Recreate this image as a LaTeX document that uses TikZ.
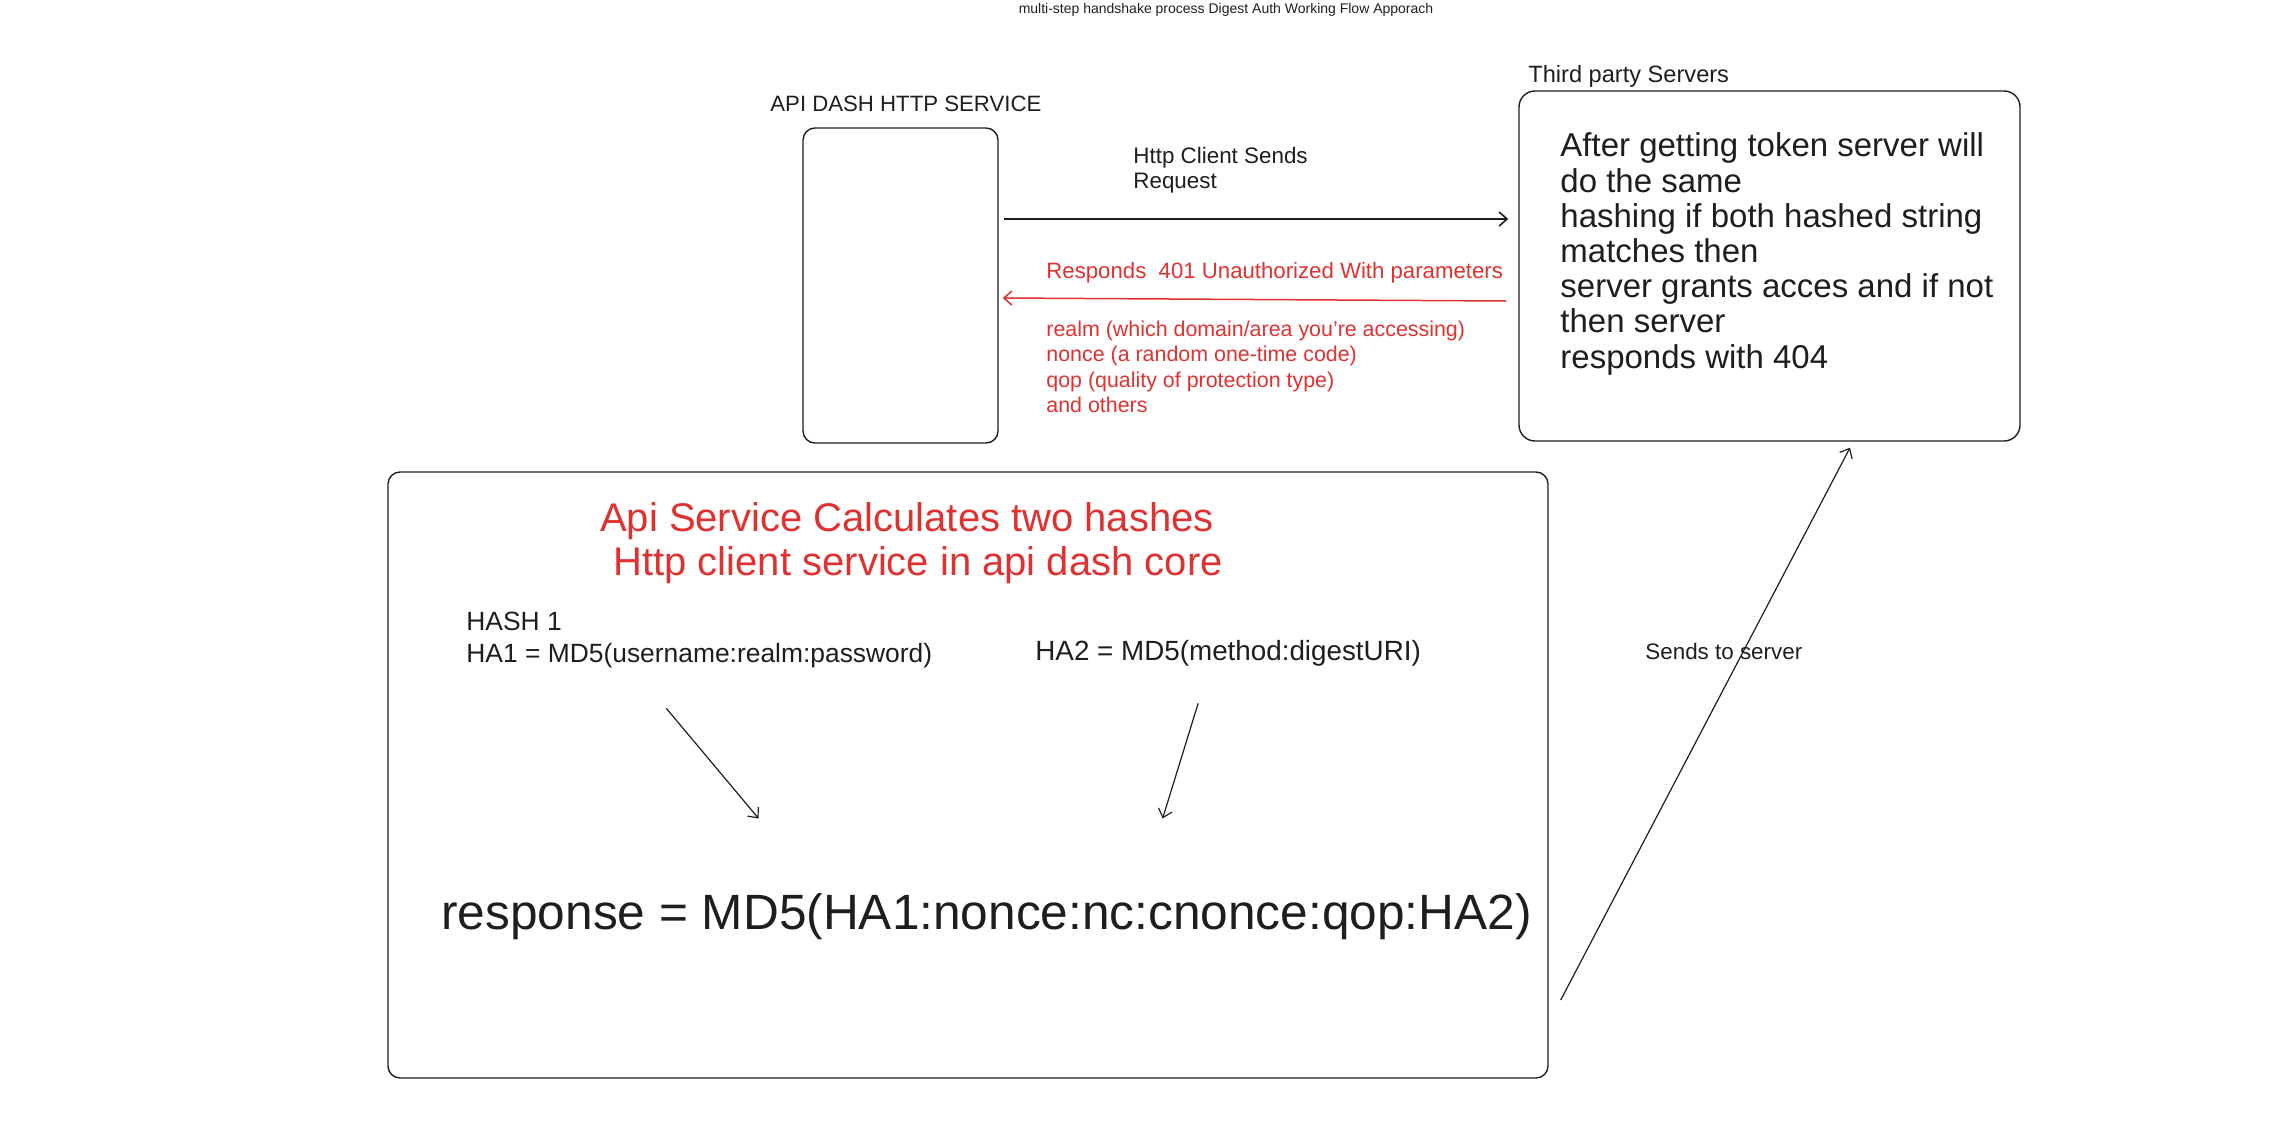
\documentclass[tikz,border=0pt]{standalone}
\usepackage{fontspec}
\setmainfont{Liberation Sans}
\usepackage{tikz}
\usetikzlibrary{arrows,arrows.meta}
\definecolor{redink}{HTML}{E03131}
\definecolor{ink}{HTML}{1E1E1E}
\begin{document}
\begin{tikzpicture}[x=0.5pt,y=-0.5pt]
\tikzstyle{every node}=[inner sep=0pt, text=ink]
\tikzstyle{box}=[draw=ink, line width=0.7pt, rectangle, rounded corners=6pt]
\tikzstyle{txt}=[anchor=west, align=left]
\tikzstyle{arr}=[draw=ink, line width=0.6pt, ->, >={Straight Barb[length=4pt,width=7pt]}]
\useasboundingbox (0,0) rectangle (2290,1141);
% boxes
\draw (900.5,285.5) node (phone) [box, minimum width=97.5pt, minimum height=157.5pt] {};
\draw (1769.5,266) node (server) [box, rounded corners=8pt, minimum width=250.5pt, minimum height=175pt] {};
\draw (968,775) node (core) [box, minimum width=580pt, minimum height=303pt] {};
% labels
\draw (1226,10) node (title) [font=\fontsize{7}{8}\selectfont] {multi-step handshake process Digest Auth Working Flow Apporach};
\draw (770,104) node (phonelbl) [txt, font=\fontsize{11.1}{12}\selectfont] {API DASH HTTP SERVICE};
\draw (1528,76) node (serverlbl) [txt, font=\fontsize{11.8}{12}\selectfont] {Third party Servers};
\draw (1133,170) node (reqlbl) [txt, font=\fontsize{11.2}{12.5}\selectfont] {Http Client Sends\\Request};
\draw (1046,273) node (resplbl) [txt, text=redink, font=\fontsize{11.1}{12.5}\selectfont] {Responds\ \ 401 Unauthorized With parameters};
\draw (1046,367) node (params) [txt, text=redink, font=\fontsize{10.7}{12.75}\selectfont]
  {realm (which domain/area you're accessing)\\nonce (a random one-time code)\\qop (quality of protection type)\\and others};
\draw (1560,254) node (servertxt) [txt, font=\fontsize{16.5}{17.6}\selectfont]
  {After getting token server will\\do the same\\hashing if both hashed string\\matches then\\server grants acces and if not\\then server\\responds with 404};
\draw (907,543) node (heading) [align=center, text=redink, font=\fontsize{20}{22}\selectfont]
  {Api Service Calculates two hashes\\\ \ Http client service in api dash core};
\draw (466,640) node (ha1) [txt, font=\fontsize{13.2}{16}\selectfont] {HASH 1\\HA1 = MD5(username:realm:password)};
\draw (1035,653) node (ha2) [txt, font=\fontsize{13.9}{16}\selectfont] {HA2 = MD5(method:digestURI)};
\draw (441,917) node (result) [txt, font=\fontsize{24.8}{30}\selectfont] {response = MD5(HA1:nonce:nc:cnonce:qop:HA2)};
\draw (1645,651) node (sendlbl) [txt, font=\fontsize{11.2}{12}\selectfont] {Sends to server};
% connectors
\draw [arr, line width=0.8pt] ([xshift=2.5pt,yshift=33.25pt]phone.east) -- ([xshift=-5pt,yshift=23.5pt]server.west);
\draw [arr, draw=redink, line width=0.75pt] ([xshift=-6pt,yshift=-17.5pt]server.west) -- ([xshift=2pt,yshift=-6.25pt]phone.east);
\draw [arr] ([xshift=-16.5pt,yshift=-20pt]ha1.south) -- ([xshift=-114pt,yshift=37.5pt]result.north);
\draw [arr] ([xshift=-15pt,yshift=-18.5pt]ha2.south) -- ([xshift=88pt,yshift=37.5pt]result.north);
\draw [arr] ([xshift=6pt,yshift=-112.5pt]core.east) -- ([xshift=40.25pt,yshift=-3pt]server.south);
\end{tikzpicture}
\end{document}
